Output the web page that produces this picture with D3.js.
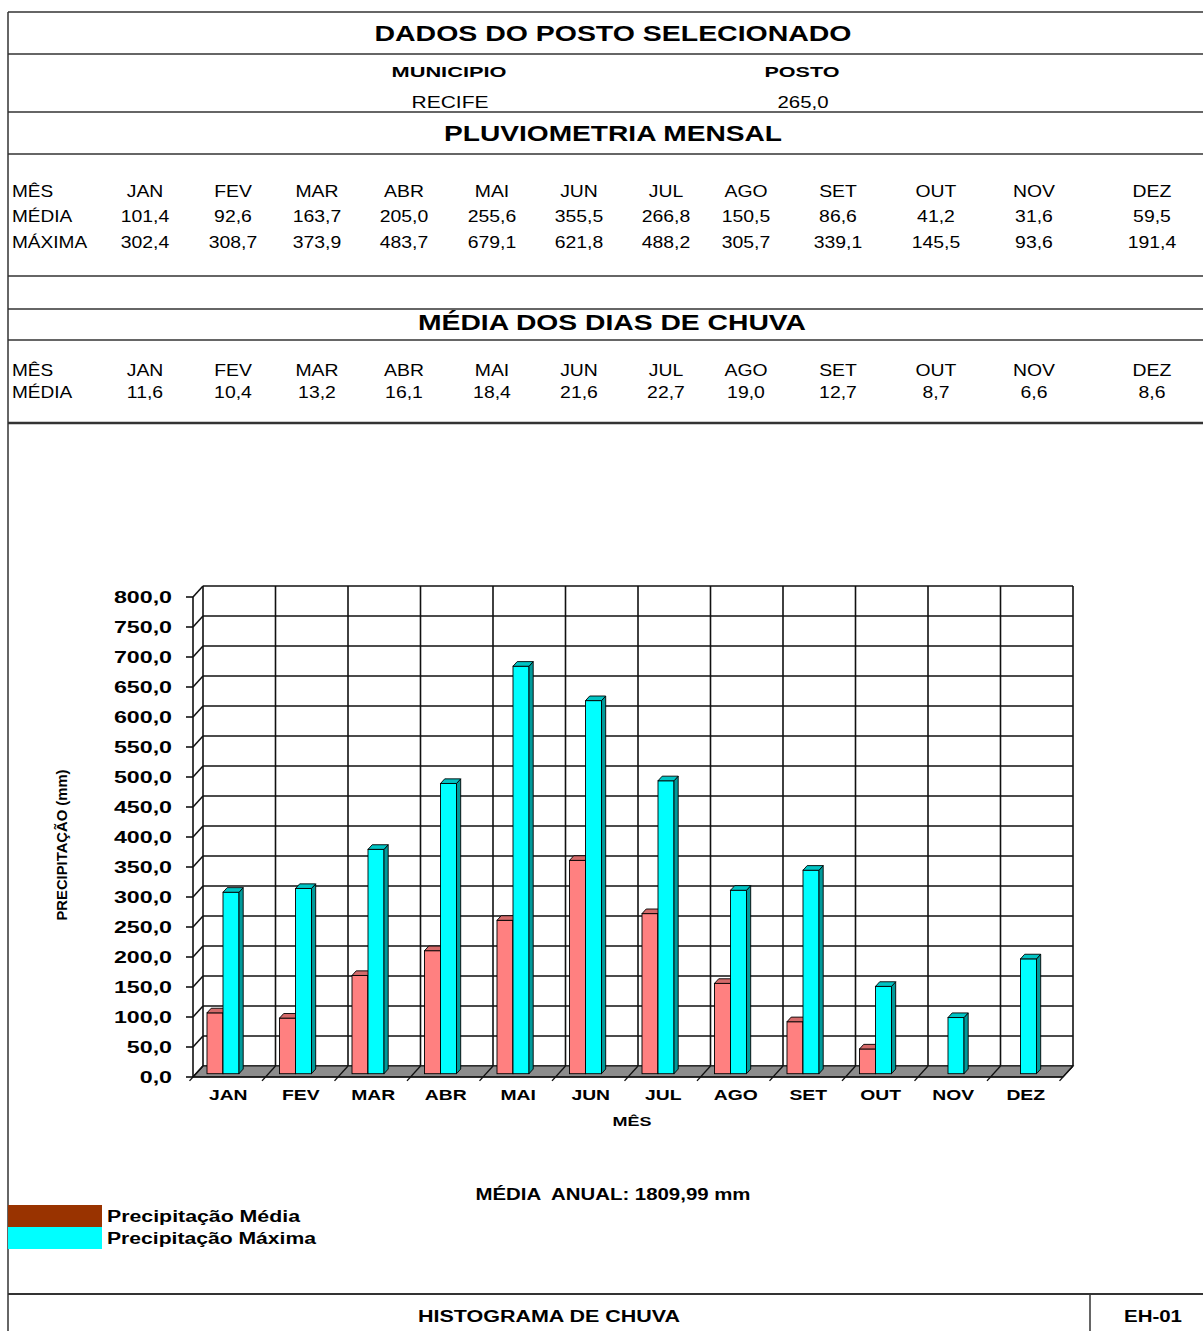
<!DOCTYPE html>
<html>
<head>
<meta charset="utf-8">
<script src="https://cdn.jsdelivr.net/npm/d3@7"></script>
<style>
  body { margin: 0; background: #fff; }
  svg { display: block; font-family: "Liberation Sans", Arial, sans-serif; }
</style>
</head>
<body>
<div id="chart"></div>
<script>
// dados do posto
const meses = ['JAN', 'FEV', 'MAR', 'ABR', 'MAI', 'JUN', 'JUL', 'AGO', 'SET', 'OUT', 'NOV', 'DEZ'];
const mediaMensal = [101.4, 92.6, 163.7, 205.0, 255.6, 355.5, 266.8, 150.5, 86.6, 41.2, 31.6, 59.5];
const maximaMensal = [302.4, 308.7, 373.9, 483.7, 679.1, 621.8, 488.2, 305.7, 339.1, 145.5, 93.6, 191.4];
const diasChuva = [11.6, 10.4, 13.2, 16.1, 18.4, 21.6, 22.7, 19.0, 12.7, 8.7, 6.6, 8.6];
// no gráfico NOV e DEZ não aparecem para a média
const mediaGrafico = [101.4, 92.6, 163.7, 205.0, 255.6, 355.5, 266.8, 150.5, 86.6, 41.2, null, null];
const yTicks = d3.range(0, 801, 50);
const municipio = 'RECIFE';
const posto = '265,0';
const mediaAnual = '1809,99';

const width = 1203;
const height = 1331;
const fmt = v => v.toFixed(1).replace('.', ',');

const svg = d3.select('#chart')
  .append('svg')
  .attr('width', width)
  .attr('height', height);

// estica o texto na horizontal (a imagem original é larga)
function stretch(sel, k) {
  sel.each(function () {
    const w = this.getComputedTextLength();
    d3.select(this).attr('textLength', w * k).attr('lengthAdjust', 'spacingAndGlyphs');
  });
}

function text(x, y, s, size, weight, anchor, len) {
  const t = svg.append('text')
    .attr('x', x)
    .attr('y', y)
    .attr('dy', '0.35em')
    .attr('font-size', size)
    .attr('font-weight', weight)
    .attr('text-anchor', anchor)
    .attr('fill', '#000')
    .text(s);
  if (len) t.attr('textLength', len).attr('lengthAdjust', 'spacingAndGlyphs');
  return t;
}

function hline(y, x1, x2, w) {
  svg.append('line')
    .attr('x1', x1).attr('x2', x2)
    .attr('y1', y).attr('y2', y)
    .attr('stroke', '#333')
    .attr('stroke-width', w || 1.5);
}

// ---- cabeçalho / quadro ----
[12, 54, 112, 154, 276, 309, 340].forEach(y => hline(y, 8, width));
hline(423, 8, width, 2.5);
hline(1294, 8, width, 2);
svg.append('line')
  .attr('x1', 8).attr('x2', 8).attr('y1', 12).attr('y2', height)
  .attr('stroke', '#333').attr('stroke-width', 1.5);
svg.append('line')
  .attr('x1', 1090).attr('x2', 1090).attr('y1', 1294).attr('y2', height)
  .attr('stroke', '#333').attr('stroke-width', 1.5);

text(613, 33, 'DADOS DO POSTO SELECIONADO', 22, 'bold', 'middle', 477);
text(449, 72, 'MUNICIPIO', 15, 'bold', 'middle', 115);
text(802, 72, 'POSTO', 15, 'bold', 'middle', 75);
text(450, 102, municipio, 16, 'normal', 'middle', 77);
text(803, 102, posto, 16, 'normal', 'middle', 51);
text(613, 133, 'PLUVIOMETRIA MENSAL', 22, 'bold', 'middle', 338);
text(612, 322, 'MÉDIA DOS DIAS DE CHUVA', 22, 'bold', 'middle', 388);

// ---- tabelas ----
const colX = [145, 233, 317, 404, 492, 579, 666, 746, 838, 936, 1034, 1152];

function tableRow(y, label, values) {
  stretch(text(12, y, label, 17, 'normal', 'start'), 1.12);
  values.forEach((v, i) => {
    stretch(text(colX[i], y, v, 17, 'normal', 'middle'), 1.14);
  });
}

tableRow(191, 'MÊS', meses);
tableRow(216, 'MÉDIA', mediaMensal.map(fmt));
tableRow(242, 'MÁXIMA', maximaMensal.map(fmt));
tableRow(370, 'MÊS', meses);
tableRow(392, 'MÉDIA', diasChuva.map(fmt));

// ---- gráfico 3D ----
const DX = 10, DY = -11;
const x0 = 193, x1 = 1063;

const scaleY = d3.scaleLinear()
  .domain([0, 800])
  .range([1077, 597]);

const scaleX = d3.scaleBand()
  .domain(meses)
  .range([x0, x1]);

const bw = scaleX.bandwidth();
const bounds = meses.map(m => scaleX(m)).concat([x1]);

const P = (x, y, z) => [x + z * DX, y + z * DY];
const chart = svg.append('g');

function seg(a, b, w) {
  chart.append('line')
    .attr('x1', a[0]).attr('y1', a[1])
    .attr('x2', b[0]).attr('y2', b[1])
    .attr('stroke', '#111')
    .attr('stroke-width', w || 1.6);
}

// parede de fundo
yTicks.forEach(t => seg(P(x0, scaleY(t), 1), P(x1, scaleY(t), 1)));
bounds.forEach(b => seg(P(b, scaleY(0), 1), P(b, scaleY(800), 1)));

// parede lateral + eixo Y
yTicks.forEach(t => {
  seg(P(x0, scaleY(t), 0), P(x0, scaleY(t), 1));
  seg([x0 - 7, scaleY(t)], [x0, scaleY(t)]);
});
seg([x0, scaleY(0)], [x0, scaleY(800)]);

// piso
chart.append('polygon')
  .attr('points', [P(x0, scaleY(0), 0), P(x1, scaleY(0), 0), P(x1, scaleY(0), 1), P(x0, scaleY(0), 1)].join(' '))
  .attr('fill', '#8c8c8c')
  .attr('stroke', '#111')
  .attr('stroke-width', 1.2);
bounds.forEach(b => seg(P(b, scaleY(0), 1), P(b, scaleY(0), -0.35), 1.4));
seg(P(x0, scaleY(0), 0), P(x1, scaleY(0), 0));

// rótulos do eixo Y
yTicks.forEach(t => {
  const lbl = text(172, scaleY(t), fmt(t), 16, 'bold', 'end');
  stretch(lbl, 1.45);
});

// barras
const series = [
  { values: mediaGrafico, off: 11, front: '#ff8080', side: '#b05858', top: '#d46a6a' },
  { values: maximaMensal, off: 27, front: '#00ffff', side: '#009a9a', top: '#00c4c4' }
];
const zf = 0.3, zb = 0.72, w = 16;

series.forEach(s => {
  const g = chart.append('g');
  meses.forEach((m, i) => {
    const v = s.values[i];
    if (v == null) return;
    const xl = scaleX(m) + s.off;
    const xr = xl + w;
    const ft = P(xl, scaleY(v), zf);
    const fb = P(xr, scaleY(0), zf);
    const d = [(zb - zf) * DX, (zb - zf) * DY];
    g.append('rect')
      .attr('x', ft[0]).attr('y', ft[1])
      .attr('width', w).attr('height', fb[1] - ft[1])
      .attr('fill', s.front).attr('stroke', '#000').attr('stroke-width', 0.9);
    g.append('polygon')
      .attr('points', [[fb[0], ft[1]], [fb[0], fb[1]], [fb[0] + d[0], fb[1] + d[1]], [fb[0] + d[0], ft[1] + d[1]]].join(' '))
      .attr('fill', s.side).attr('stroke', '#000').attr('stroke-width', 0.9);
    g.append('polygon')
      .attr('points', [[ft[0], ft[1]], [fb[0], ft[1]], [fb[0] + d[0], ft[1] + d[1]], [ft[0] + d[0], ft[1] + d[1]]].join(' '))
      .attr('fill', s.top).attr('stroke', '#000').attr('stroke-width', 0.9);
  });
});

// rótulos do eixo X
meses.forEach(m => {
  const lbl = text(scaleX(m) + bw / 2 - 1, 1095, m, 14, 'bold', 'middle');
  stretch(lbl, 1.38);
});
text(632, 1121, 'MÊS', 13, 'bold', 'middle', 39);

svg.append('text')
  .attr('transform', 'translate(62,845) rotate(-90)')
  .attr('dy', '0.35em')
  .attr('text-anchor', 'middle')
  .attr('font-size', 14)
  .attr('font-weight', 'bold')
  .attr('textLength', 151)
  .attr('lengthAdjust', 'spacingAndGlyphs')
  .text('PRECIPITAÇÃO (mm)');

// ---- rodapé ----
text(613, 1194, 'MÉDIA  ANUAL: ' + mediaAnual + ' mm', 16, 'bold', 'middle', 275).style('white-space', 'pre');

const legenda = [
  { nome: 'Precipitação Média', cor: '#993300', y: 1205 },
  { nome: 'Precipitação Máxima', cor: '#00ffff', y: 1227 }
];
legenda.forEach((l, i) => {
  svg.append('rect')
    .attr('x', 8).attr('y', l.y)
    .attr('width', 94).attr('height', 22)
    .attr('fill', l.cor);
  text(107, l.y + 11, l.nome, 16, 'bold', 'start', i === 0 ? 193 : 209);
});

text(549, 1316, 'HISTOGRAMA DE CHUVA', 16, 'bold', 'middle', 262);
text(1153, 1316, 'EH-01', 16, 'bold', 'middle', 58);
</script>
</body>
</html>
